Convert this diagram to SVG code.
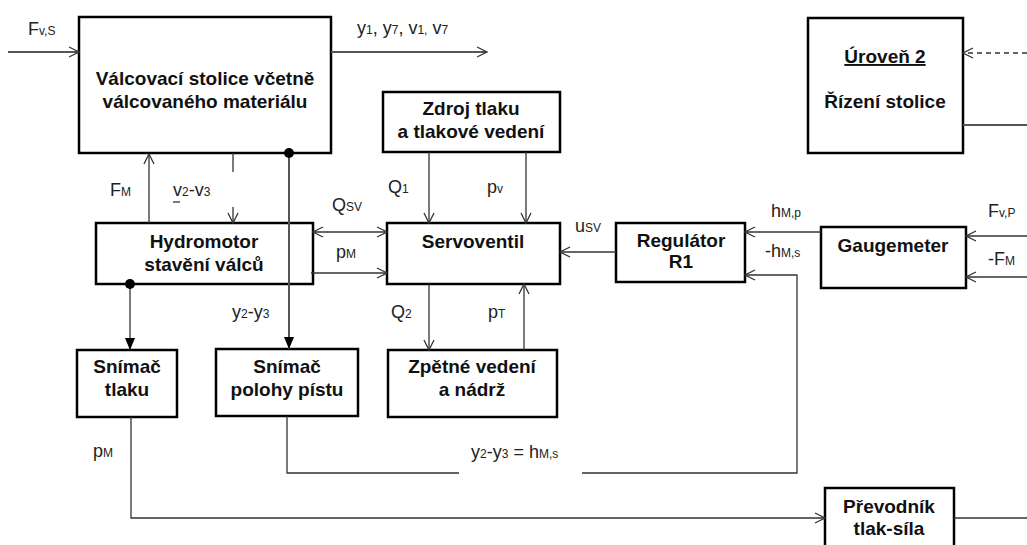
<svg xmlns="http://www.w3.org/2000/svg" width="1027" height="545" viewBox="0 0 1027 545">
<style>
.box{fill:#fff;stroke:#000;stroke-width:2.5}
.bt{font-family:"Liberation Sans",Arial,sans-serif;font-weight:bold;font-size:19px;fill:#111;text-anchor:middle}
.lb{font-family:"Liberation Sans",Arial,sans-serif;font-size:18px;fill:#222}
.sub{font-size:12px}
.c{fill:none;stroke:#333;stroke-width:1.3}
.g{fill:none;stroke:#555;stroke-width:2}
</style>
<defs>
<marker id="open" viewBox="0 0 12 12" refX="11" refY="6" markerWidth="12" markerHeight="12" markerUnits="userSpaceOnUse" orient="auto-start-reverse"><path d="M1,1 L11,6 L1,11" fill="none" stroke="#333" stroke-width="1.3"/></marker>
<marker id="filled" viewBox="0 0 12 12" refX="12" refY="6" markerWidth="12" markerHeight="12" markerUnits="userSpaceOnUse" orient="auto"><path d="M0,1 L12,6 L0,11 z" fill="#000"/></marker>
</defs>
<g id="n_valcovaci"><rect class="box" x="79" y="17" width="252" height="136"/>
<text class="bt" x="205" y="85">Válcovací stolice včetně</text><text class="bt" x="205" y="108">válcovaného materiálu</text></g>
<g id="n_uroven"><rect class="box" x="808" y="18" width="155" height="135"/>
<text class="bt" x="885" y="63" text-decoration="underline">Úroveň 2</text><text class="bt" x="885" y="108">Řízení stolice</text></g>
<g id="n_zdroj"><rect class="box" x="383" y="92" width="177" height="60"/>
<text class="bt" x="471" y="115">Zdroj tlaku</text><text class="bt" x="471" y="138">a tlakové vedení</text></g>
<g id="n_hydromotor"><rect class="box" x="96" y="223" width="217" height="61"/>
<text class="bt" x="204" y="248">Hydromotor</text><text class="bt" x="204" y="271">stavění válců</text></g>
<g id="n_servoventil"><rect class="box" x="387" y="223" width="173" height="61"/>
<text class="bt" x="473" y="248">Servoventil</text></g>
<g id="n_regulator"><rect class="box" x="616" y="223" width="129" height="59"/>
<text class="bt" x="681" y="247">Regulátor</text><text class="bt" x="681" y="268">R1</text></g>
<g id="n_gauge"><rect class="box" x="821" y="227" width="145" height="61"/>
<text class="bt" x="893" y="252">Gaugemeter</text></g>
<g id="n_snimac_tlaku"><rect class="box" x="77" y="350" width="100" height="67"/>
<text class="bt" x="127" y="373">Snímač</text><text class="bt" x="127" y="396">tlaku</text></g>
<g id="n_snimac_polohy"><rect class="box" x="216" y="349" width="142" height="67"/>
<text class="bt" x="287" y="373">Snímač</text><text class="bt" x="287" y="396">polohy pístu</text></g>
<g id="n_zpetne"><rect class="box" x="388" y="350" width="169" height="67"/>
<text class="bt" x="472" y="373">Zpětné vedení</text><text class="bt" x="472" y="396">a nádrž</text></g>
<g id="n_prevodnik"><rect class="box" x="825" y="488" width="129" height="70"/>
<text class="bt" x="889" y="513">Převodník</text><text class="bt" x="889" y="535">tlak-síla</text></g>
<g id="connectors">
<path class="g" d="M8,52 H79" marker-end="url(#open)"/>
<path class="g" d="M331,52 H487" marker-end="url(#open)"/>
<path class="c" d="M149,223 V154" marker-end="url(#open)"/>
<path class="c" d="M233,153 V172"/>
<path class="c" d="M233,207 V223" marker-end="url(#open)"/>
<path class="g" d="M289,153 V349" marker-end="url(#filled)"/>
<path class="c" d="M130,284 V350" marker-end="url(#filled)"/>
<path class="c" d="M313,232 H387" marker-start="url(#open)" marker-end="url(#open)"/>
<path class="c" d="M311,273 H387" marker-end="url(#open)"/>
<path class="c" d="M429,152 V223" marker-end="url(#open)"/>
<path class="c" d="M526,152 V223" marker-end="url(#open)"/>
<path class="c" d="M429,284 V350" marker-end="url(#open)"/>
<path class="c" d="M524,350 V284" marker-end="url(#open)"/>
<path class="c" d="M616,252 H560" marker-end="url(#open)"/>
<path class="c" d="M821,232 H745" marker-end="url(#open)"/>
<path class="c" d="M287,416 V473 H459"/>
<path class="c" d="M582,473 H797 V275 H745" marker-end="url(#open)"/>
<path class="c" d="M1027,236 H966" marker-end="url(#open)"/>
<path class="c" d="M1027,277 H966" marker-end="url(#open)"/>
<path class="c" d="M1027,53 H963" stroke-dasharray="5,4" marker-end="url(#open)"/>
<path class="g" d="M963,125 H1027"/>
<path class="c" d="M131,417 V518 H825" marker-end="url(#open)"/>
<path class="c" d="M954,518 H1027"/>
<path class="c" d="M173,202 H180"/>
<circle cx="289" cy="153" r="5" fill="#000"/><circle cx="130" cy="284" r="5" fill="#000"/>
</g>
<g id="labels">
<text class="lb" x="28" y="35">F<tspan class="sub">v,S</tspan></text>
<text class="lb" x="357" y="34">y<tspan class="sub">1</tspan>, y<tspan class="sub">7</tspan>, v<tspan class="sub">1,</tspan> v<tspan class="sub">7</tspan></text>
<text class="lb" x="110" y="196">F<tspan class="sub">M</tspan></text>
<text class="lb" x="173" y="196">v<tspan class="sub">2</tspan>-v<tspan class="sub">3</tspan></text>
<text class="lb" x="388" y="193">Q<tspan class="sub">1</tspan></text>
<text class="lb" x="487" y="193">p<tspan class="sub">v</tspan></text>
<text class="lb" x="332" y="211">Q<tspan class="sub">SV</tspan></text>
<text class="lb" x="336" y="258">p<tspan class="sub">M</tspan></text>
<text class="lb" x="232" y="318">y<tspan class="sub">2</tspan>-y<tspan class="sub">3</tspan></text>
<text class="lb" x="391" y="318">Q<tspan class="sub">2</tspan></text>
<text class="lb" x="488" y="318">p<tspan class="sub">T</tspan></text>
<text class="lb" x="575" y="232">u<tspan class="sub">SV</tspan></text>
<text class="lb" x="771" y="217">h<tspan class="sub">M,p</tspan></text>
<text class="lb" x="765" y="257">-h<tspan class="sub">M,s</tspan></text>
<text class="lb" x="988" y="217">F<tspan class="sub">v,P</tspan></text>
<text class="lb" x="988" y="265">-F<tspan class="sub">M</tspan></text>
<text class="lb" x="93" y="457">p<tspan class="sub">M</tspan></text>
<text class="lb" x="471" y="458">y<tspan class="sub">2</tspan>-y<tspan class="sub">3</tspan> = h<tspan class="sub">M,s</tspan></text>
</g>
</svg>
